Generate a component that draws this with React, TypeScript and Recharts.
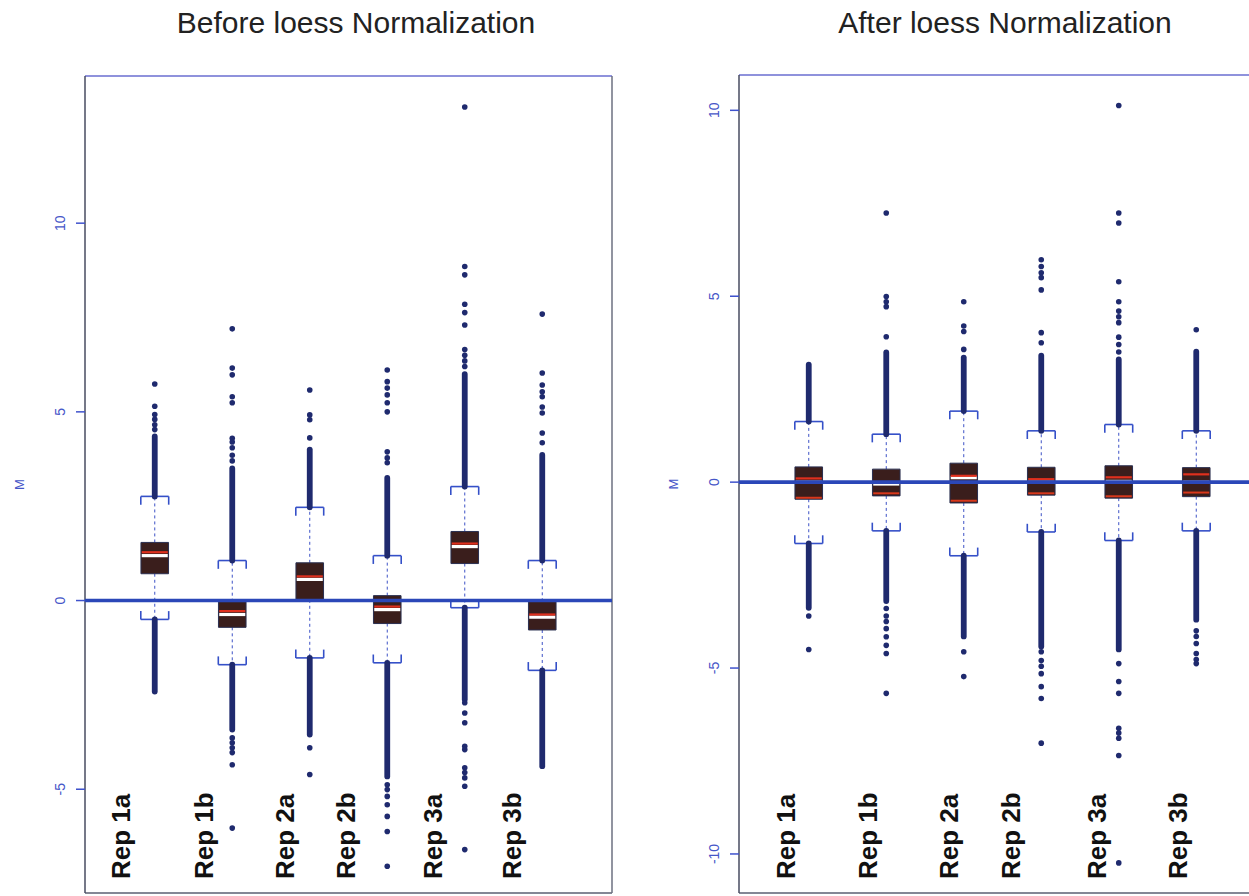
import React from 'react';
import { ComposedChart, XAxis, YAxis, Scatter, ReferenceLine, ReferenceArea } from 'recharts';

// Replicate boxes sit at x = 1..6; replicate names are written at their own axis positions.
const positions = [1, 2, 3, 4, 5, 6];
const replicates = ['Rep 1a', 'Rep 1b', 'Rep 2a', 'Rep 2b', 'Rep 3a', 'Rep 3b'];
const beforeLabelPos = [0.57, 1.63, 2.68, 3.47, 4.59, 5.61];
const afterLabelPos = [0.7, 1.77, 2.81, 3.61, 4.72, 5.76];
const beforeYTicks = [-5, 0, 5, 10];
const afterYTicks = [-10, -5, 0, 5, 10];

// M values before loess normalization
const beforeQ1 = [0.71, -0.71, 0.02, -0.61, 0.98, -0.78];
const beforeQ3 = [1.54, -0.03, 1.0, 0.13, 1.83, -0.02];
const beforeMedian = [1.19, -0.37, 0.56, -0.24, 1.43, -0.44];
const beforeRedHi = [1.28, -0.28, 0.64, -0.16, 1.51, -0.37];
const beforeRedLo: (number | null)[] = [null, null, null, null, null, null];
const beforeWhiskerHi = [2.76, 1.06, 2.47, 1.19, 3.02, 1.06];
const beforeWhiskerLo = [-0.5, -1.7, -1.52, -1.65, -0.19, -1.85];
const beforeDenseHi = [4.35, 3.5, 4.0, 3.25, 6.0, 3.86];
const beforeDenseLo = [-2.41, -3.42, -3.55, -4.66, -2.62, -4.39];
const beforeOutHi = [
  [4.53, 4.66, 4.8, 4.93, 5.15, 5.74],
  [3.7, 3.85, 4.05, 4.2, 4.3, 5.24, 5.4, 5.98, 6.16, 7.2],
  [4.31, 4.79, 4.92, 5.58],
  [3.65, 3.78, 3.94, 5.0, 5.24, 5.45, 5.63, 5.8, 6.11],
  [6.2, 6.35, 6.5, 6.65, 7.3, 7.63, 7.85, 8.63, 8.85, 13.08],
  [4.18, 4.44, 4.97, 5.13, 5.4, 5.53, 5.71, 6.03, 7.59],
];
const beforeOutLo = [
  [],
  [-3.64, -3.77, -3.9, -4.03, -4.35, -6.03],
  [-3.9, -4.61],
  [-4.88, -5.01, -5.19, -5.41, -5.72, -6.12, -7.04],
  [-2.71, -2.98, -3.24, -3.86, -3.95, -4.43, -4.56, -4.7, -4.92, -6.6],
  [],
];

// M values after loess normalization
const afterQ1 = [-0.46, -0.37, -0.56, -0.35, -0.43, -0.39];
const afterQ3 = [0.41, 0.35, 0.51, 0.4, 0.44, 0.39];
const afterMedian = [0.0, -0.05, 0.12, 0.0, 0.02, 0.0];
const afterRedHi: (number | null)[] = [0.1, null, 0.17, 0.08, 0.13, 0.21];
const afterRedLo: (number | null)[] = [-0.42, -0.3, -0.5, -0.3, -0.38, -0.28];
const afterWhiskerHi = [1.63, 1.29, 1.91, 1.38, 1.55, 1.38];
const afterWhiskerLo = [-1.65, -1.31, -1.98, -1.34, -1.57, -1.31];
const afterDenseHi = [3.16, 3.49, 3.35, 3.4, 3.3, 3.51];
const afterDenseLo = [-3.38, -3.2, -4.15, -4.42, -4.5, -3.7];
const afterOutHi = [
  [],
  [3.91, 4.72, 4.85, 4.99, 7.24],
  [3.57, 4.05, 4.2, 4.85],
  [3.75, 4.02, 5.17, 5.5, 5.63, 5.8, 5.98],
  [3.5, 3.7, 3.9, 4.29, 4.45, 4.6, 4.85, 5.39, 6.97, 7.24, 10.13],
  [4.1],
];
const afterOutLo = [
  [-3.6, -4.5],
  [-3.4, -3.6, -3.75, -3.94, -4.16, -4.39, -4.61, -5.68],
  [-4.56, -5.23],
  [-4.56, -4.8, -4.95, -5.15, -5.5, -5.82, -7.02],
  [-4.88, -5.36, -5.68, -6.62, -6.75, -6.89, -7.35, -10.24],
  [-4.0, -4.15, -4.34, -4.61, -4.77, -4.88],
];

const FONT = '"Liberation Sans", Arial, Helvetica, sans-serif';
const AXIS_BLUE = '#4656c8';
const DOT = '#1f2a6e';
const BOX_FILL = '#3a1e1c';
const WHISKER = '#3d52c6';
const ZERO_LINE = '#2b47b8';

const HALF_BOX = 0.178;
const HALF_CAP = 0.18;
const CAP_LEG = 0.22;

type PanelProps = {
  width: number;
  height: number;
  margin: { top: number; right: number; bottom: number; left: number };
  yDomain: [number, number];
  yTicks: number[];
  labelPos: number[];
  q1: number[];
  q3: number[];
  median: number[];
  redHi: (number | null)[];
  redLo: (number | null)[];
  whiskerHi: number[];
  whiskerLo: number[];
  denseHi: number[];
  denseLo: number[];
  outHi: number[][];
  outLo: number[][];
};

const YTick = (props: any) => {
  const { x, y, payload } = props;
  const cx = x - 14;
  return (
    <text
      x={cx}
      y={y}
      transform={`rotate(-90 ${cx} ${y})`}
      textAnchor="middle"
      dominantBaseline="central"
      fill={AXIS_BLUE}
      fontSize={14}
      fontFamily={FONT}
    >
      {String(payload.value)}
    </text>
  );
};

const makeRepTick = (labelPos: number[]) => (props: any) => {
  const { x, y, payload } = props;
  const i = labelPos.indexOf(payload.value);
  const ty = y - 14;
  return (
    <text
      x={x}
      y={ty}
      transform={`rotate(-90 ${x} ${ty})`}
      textAnchor="start"
      dominantBaseline="central"
      fill="#111"
      fontSize={26}
      fontWeight="bold"
      fontFamily={FONT}
    >
      {i >= 0 ? replicates[i] : ''}
    </text>
  );
};

const MLabel = (props: any) => {
  const vb = props.viewBox || {};
  const cx = (vb.x ?? 0) + (vb.width ?? 0) - 66;
  const cy = (vb.y ?? 0) + (vb.height ?? 0) / 2;
  return (
    <text
      x={cx}
      y={cy}
      transform={`rotate(-90 ${cx} ${cy})`}
      textAnchor="middle"
      dominantBaseline="central"
      fill={AXIS_BLUE}
      fontSize={13}
      fontFamily={FONT}
    >
      M
    </text>
  );
};

const Dot = (props: any) => <circle cx={props.cx} cy={props.cy} r={2.8} fill={DOT} />;

function Panel(p: PanelProps) {
  const points = positions.flatMap((x, i) => [
    ...p.outHi[i].map((y) => ({ x, y })),
    ...p.outLo[i].map((y) => ({ x, y })),
  ]);

  const seg = (key: string, x1: number, y1: number, x2: number, y2: number, style: any) => (
    <ReferenceLine
      key={key}
      segment={[
        { x: x1, y: y1 },
        { x: x2, y: y2 },
      ]}
      ifOverflow="visible"
      {...style}
    />
  );

  const whiskerStyle = { stroke: WHISKER, strokeWidth: 1, strokeDasharray: '3 3', zIndex: 350 };
  const capStyle = { stroke: '#3550c8', strokeWidth: 1.6, zIndex: 360 };
  const denseStyle = { stroke: DOT, strokeWidth: 5.8, strokeLinecap: 'round', zIndex: 370 };

  const lines: React.ReactNode[] = [];
  positions.forEach((x, i) => {
    lines.push(seg(`wh${i}`, x, p.q3[i], x, p.whiskerHi[i], whiskerStyle));
    lines.push(seg(`wl${i}`, x, p.q1[i], x, p.whiskerLo[i], whiskerStyle));
    lines.push(seg(`dh${i}`, x, p.whiskerHi[i], x, p.denseHi[i], denseStyle));
    lines.push(seg(`dl${i}`, x, p.whiskerLo[i], x, p.denseLo[i], denseStyle));
    // upper cap: bar on top, legs pointing down to the box
    lines.push(seg(`ch${i}`, x - HALF_CAP, p.whiskerHi[i], x + HALF_CAP, p.whiskerHi[i], capStyle));
    lines.push(seg(`chl${i}`, x - HALF_CAP, p.whiskerHi[i], x - HALF_CAP, p.whiskerHi[i] - CAP_LEG, capStyle));
    lines.push(seg(`chr${i}`, x + HALF_CAP, p.whiskerHi[i], x + HALF_CAP, p.whiskerHi[i] - CAP_LEG, capStyle));
    // lower cap: bar at the bottom, legs pointing up to the box
    lines.push(seg(`cl${i}`, x - HALF_CAP, p.whiskerLo[i], x + HALF_CAP, p.whiskerLo[i], capStyle));
    lines.push(seg(`cll${i}`, x - HALF_CAP, p.whiskerLo[i], x - HALF_CAP, p.whiskerLo[i] + CAP_LEG, capStyle));
    lines.push(seg(`clr${i}`, x + HALF_CAP, p.whiskerLo[i], x + HALF_CAP, p.whiskerLo[i] + CAP_LEG, capStyle));
  });

  const boxes = positions.map((x, i) => (
    <ReferenceArea
      key={`box${i}`}
      x1={x - HALF_BOX}
      x2={x + HALF_BOX}
      y1={p.q1[i]}
      y2={p.q3[i]}
      fill={BOX_FILL}
      fillOpacity={1}
      stroke="#2a2f50"
      strokeWidth={1}
      ifOverflow="visible"
      zIndex={400}
    />
  ));

  const marks: React.ReactNode[] = [];
  positions.forEach((x, i) => {
    const inner = HALF_BOX - 0.01;
    marks.push(seg(`med${i}`, x - inner, p.median[i], x + inner, p.median[i], { stroke: '#ffffff', strokeWidth: 3.2, zIndex: 450 }));
    const hi = p.redHi[i];
    if (hi !== null) marks.push(seg(`rh${i}`, x - inner, hi, x + inner, hi, { stroke: '#e0301e', strokeWidth: 2.2, zIndex: 460 }));
    const lo = p.redLo[i];
    if (lo !== null) marks.push(seg(`rl${i}`, x - inner, lo, x + inner, lo, { stroke: '#d8381c', strokeWidth: 2, zIndex: 460 }));
  });

  return (
    <ComposedChart width={p.width} height={p.height} margin={p.margin}>
      <XAxis
        type="number"
        dataKey="x"
        domain={[0.1, 6.9]}
        allowDataOverflow
        ticks={p.labelPos}
        interval={0}
        tickLine={false}
        tickSize={0}
        tickMargin={0}
        height={1}
        axisLine={{ stroke: '#5b5f72', strokeWidth: 1.5 }}
        tick={makeRepTick(p.labelPos)}
      />
      <XAxis
        xAxisId="top"
        orientation="top"
        type="number"
        domain={[0.1, 6.9]}
        allowDataOverflow
        height={1}
        tick={false}
        tickLine={false}
        axisLine={{ stroke: '#6a6ed0', strokeWidth: 1.5 }}
      />
      <YAxis
        type="number"
        dataKey="y"
        domain={p.yDomain}
        allowDataOverflow
        ticks={p.yTicks}
        interval={0}
        width={1}
        tickSize={9}
        tickLine={{ stroke: '#3f52cc', strokeWidth: 1.5 }}
        axisLine={{ stroke: '#474b60', strokeWidth: 1.5 }}
        tick={YTick}
        label={(lp: any) => <MLabel {...lp} />}
      />
      <YAxis
        yAxisId="right"
        orientation="right"
        type="number"
        domain={p.yDomain}
        allowDataOverflow
        width={1}
        tick={false}
        tickLine={false}
        axisLine={{ stroke: '#6d7080', strokeWidth: 1.5 }}
      />
      {lines}
      <Scatter data={points} shape={Dot} isAnimationActive={false} zIndex={380} />
      {boxes}
      {marks}
      <ReferenceLine y={0} stroke={ZERO_LINE} strokeWidth={3.6} zIndex={600} />
    </ComposedChart>
  );
}

const titleStyle: React.CSSProperties = {
  position: 'absolute',
  top: 5,
  width: 500,
  textAlign: 'center',
  fontFamily: FONT,
  fontSize: 30,
  lineHeight: '35px',
  color: '#222',
  whiteSpace: 'nowrap',
};

export default function App() {
  return (
    <div
      style={{
        position: 'fixed',
        left: 0,
        top: 0,
        width: 1249,
        height: 896,
        overflow: 'hidden',
        background: '#ffffff',
      }}
    >
      <div style={{ ...titleStyle, left: 106 }}>Before loess Normalization</div>
      <div style={{ ...titleStyle, left: 755 }}>After loess Normalization</div>
      <div style={{ position: 'absolute', left: 0, top: 0 }}>
        <Panel
          width={640}
          height={896}
          margin={{ top: 75, right: 27, bottom: 2, left: 84 }}
          yDomain={[-7.75, 13.9]}
          yTicks={beforeYTicks}
          labelPos={beforeLabelPos}
          q1={beforeQ1}
          q3={beforeQ3}
          median={beforeMedian}
          redHi={beforeRedHi}
          redLo={beforeRedLo}
          whiskerHi={beforeWhiskerHi}
          whiskerLo={beforeWhiskerLo}
          denseHi={beforeDenseHi}
          denseLo={beforeDenseLo}
          outHi={beforeOutHi}
          outLo={beforeOutLo}
        />
      </div>
      <div style={{ position: 'absolute', left: 640, top: 0 }}>
        <Panel
          width={660}
          height={896}
          margin={{ top: 74, right: 33, bottom: 2, left: 98 }}
          yDomain={[-11.05, 10.95]}
          yTicks={afterYTicks}
          labelPos={afterLabelPos}
          q1={afterQ1}
          q3={afterQ3}
          median={afterMedian}
          redHi={afterRedHi}
          redLo={afterRedLo}
          whiskerHi={afterWhiskerHi}
          whiskerLo={afterWhiskerLo}
          denseHi={afterDenseHi}
          denseLo={afterDenseLo}
          outHi={afterOutHi}
          outLo={afterOutLo}
        />
      </div>
    </div>
  );
}
